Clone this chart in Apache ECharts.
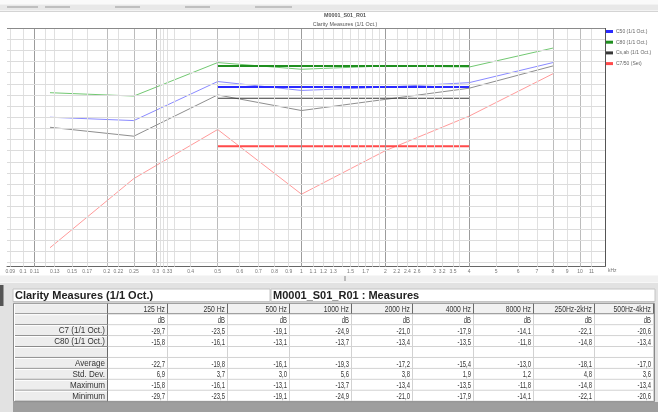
<!DOCTYPE html>
<html><head><meta charset="utf-8">
<script src="https://cdn.jsdelivr.net/npm/echarts@6/dist/echarts.min.js"></script>
<style>html,body{margin:0;padding:0;background:#fff}#c{width:658px;height:412px}</style>
</head><body><div id="c"></div><script>
// ---------- chart data ----------
const freqs = [125, 250, 500, 1000, 2000, 4000, 8000];
const c50 = [-18.0, -18.3, -14.8, -15.6, -15.3, -14.9, -13.1];
const c80 = [-15.8, -16.1, -13.1, -13.7, -13.4, -13.5, -11.8];
const csab = [-18.9, -19.7, -16.0, -17.4, -16.4, -15.4, -13.4];
const c7 = [-29.7, -23.5, -19.1, -24.9, -21.0, -17.9, -14.1];
const bandFreqs = [500, 4000];
const bandValues = [-15.3, -13.4, -16.3, -20.6]; // blue, green, black, red
const legendNames = ['C50 (1/1 Oct.)', 'C80 (1/1 Oct.)', 'Cs,ab (1/1 Oct.)', 'C7/50 (Set)'];
// axis ticks
const labelFreqs = [90,100,110,130,150,170,200,220,250,300,330,400,500,600,700,800,900,1000,1100,1200,1300,1500,1700,2000,2200,2400,2600,3000,3200,3500,4000,5000,6000,7000,8000,9000,10000,11000];
const gridFreqs = [90,100,110,120,130,150,170,200,220,250,300,310,320,330,350,400,500,600,700,800,900,1000,1100,1200,1300,1400,1500,1600,1700,1800,1900,2000,2200,2400,2600,2800,3000,3200,3500,3700,4000,5000,6000,7000,8000,9000,10000,11000];
const gridDarkFreqs = [110, 300, 1000, 2000, 4000];
const gridMidFreqs = [200, 250, 500, 8000, 10000];
const gridDb = [-31,-30,-29,-28,-27,-26,-25,-24,-23,-22,-21,-20,-19,-18,-17,-16,-15,-14,-13,-12,-11];
const xMin = 87.6, xMax = 12300, yMin = -31.4, yMax = -10;

// ---------- table data ----------
const tableCols = ['125 Hz','250 Hz','500 Hz','1000 Hz','2000 Hz','4000 Hz','8000 Hz','250Hz-2kHz','500Hz-4kHz'];
const tableUnit = 'dB';
const rowC7 = [-29.7,-23.5,-19.1,-24.9,-21.0,-17.9,-14.1,-22.1,-20.6];
const rowC80 = [-15.8,-16.1,-13.1,-13.7,-13.4,-13.5,-11.8,-14.8,-13.4];
const rowAvg = [-22.7,-19.8,-16.1,-19.3,-17.2,-15.4,-13.0,-18.1,-17.0];
const rowStd = [6.9,3.7,3.0,5.6,3.8,1.9,1.2,4.8,3.6];
const rowMax = [-15.8,-16.1,-13.1,-13.7,-13.4,-13.5,-11.8,-14.8,-13.4];
const rowMin = [-29.7,-23.5,-19.1,-24.9,-21.0,-17.9,-14.1,-22.1,-20.6];
const rowLabels = ['', '', 'C7 (1/1 Oct.)', 'C80 (1/1 Oct.)', '', 'Average', 'Std. Dev.', 'Maximum', 'Minimum'];
const panelTitle = 'Clarity Measures (1/1 Oct.)';
const panelSub = 'M0001_S01_R01 : Measures';
const chartTitle = 'M0001_S01_R01';
const chartSub = 'Clarity Measures (1/1 Oct.)';

// ---------- build ----------
const FONT = 'Liberation Sans, Arial, sans-serif';
const fmt = v => v.toFixed(1).replace('.', ',');
const toPts = vals => freqs.map((f, i) => [f, vals[i]]);
const thinColors = ['#8a8aff', '#72c872', '#8e8e8e', '#ff9a9a'];
const thickColors = ['#2a2aff', '#1f8f1f', '#383838', '#ff4a4a'];
const thickWidths = [2, 2, 1.2, 2];
const seriesVals = [c50, c80, csab, c7];

const gridLines = [];
gridFreqs.forEach(f => {
  let col = '#e0e0e0';
  if (gridDarkFreqs.includes(f)) col = '#9c9c9c';
  else if (gridMidFreqs.includes(f)) col = '#bcbcbc';
  gridLines.push({ xAxis: f, lineStyle: { color: col, width: 1, type: 'solid' } });
});
gridDb.forEach(v => gridLines.push({ yAxis: v, lineStyle: { color: '#dcdcdc', width: 1, type: 'solid' } }));
gridLines.push({ yAxis: yMax, lineStyle: { color: '#8a8a8a', width: 1, type: 'solid' } });
gridLines.push({ xAxis: xMax, lineStyle: { color: '#555', width: 1, type: 'solid' } });

const series = [{
  type: 'line', name: 'grid', data: [], z: 1, silent: true,
  markLine: { silent: true, symbol: ['none', 'none'], animation: false, label: { show: false }, data: gridLines }
}];
seriesVals.forEach((vals, k) => {
  series.push({ type: 'line', name: 'thin' + k, data: toPts(vals), symbol: 'none', z: 3,
    color: thinColors[k], lineStyle: { color: thinColors[k], width: 1 } });
});
seriesVals.forEach((vals, k) => {
  series.push({ type: 'line', name: legendNames[k], data: bandFreqs.map(f => [f, bandValues[k]]), symbol: 'none', z: 4,
    color: thickColors[k], lineStyle: { color: thickColors[k], width: thickWidths[k] } });
});

// table graphics
const colX = [15,108,168,228,290,352,413,474,534,595,654];
const rowTop = 303.3, rowH = 10.93;
const g = [];
function rect(x, y, w, h, fill, stroke) {
  g.push({ type: 'rect', shape: { x, y, width: w, height: h }, style: { fill: fill || 'none', stroke: stroke || null, lineWidth: 1 }, silent: true });
}
function line(x1, y1, x2, y2, c) {
  g.push({ type: 'line', shape: { x1, y1, x2, y2 }, style: { stroke: c, lineWidth: 1 }, silent: true });
}
function text(x, y, s, opt) {
  g.push({ type: 'text', x, y, scaleX: opt.sx || 1, silent: true,
    style: { text: s, fill: opt.color || '#333', font: (opt.bold ? 'bold ' : '') + (opt.size || 8) + 'px ' + FONT,
      textAlign: opt.align || 'right', textVerticalAlign: 'middle' } });
}
// top toolbar
rect(0, 0, 658, 4.5, '#fafafa');
rect(0, 4.5, 658, 6, '#e8e8e8');
[[7,38],[45,70],[115,140],[185,210],[255,292]].forEach(s => rect(s[0], 6.2, s[1]-s[0], 1.6, '#b4b4b4'));
line(0, 11.5, 658, 11.5, '#d4d4d4');
// chart titles
text(345, 15.5, chartTitle, { align: 'center', size: 6, bold: true, color: '#555', sx: 0.9 });
text(345, 24, chartSub, { align: 'center', size: 6, color: '#555', sx: 0.9 });
// splitter strip
rect(0, 275.5, 658, 7, '#f0f0f0');
rect(344, 276, 2, 5, '#bbbbbb');
// panel
rect(0, 283, 658, 129, '#e2e2e2');
rect(0, 285, 3.5, 21, '#555');
rect(13, 289, 257, 12.5, '#ffffff', '#c4c4c4');
rect(271, 289, 384, 12.5, '#ffffff', '#c4c4c4');
text(15, 295.7, panelTitle, { align: 'left', size: 11, bold: true, color: '#222', sx: 1.0 });
text(273, 295.7, panelSub, { align: 'left', size: 11, bold: true, color: '#222', sx: 1.0 });
rect(13, 402, 645, 10, '#9e9e9e');
// table body
const rows = [tableCols, tableCols.map(() => tableUnit), rowC7.map(fmt), rowC80.map(fmt), tableCols.map(() => ''),
  rowAvg.map(fmt), rowStd.map(fmt), rowMax.map(fmt), rowMin.map(fmt)];
rect(13, rowTop, 642, rowH * rows.length, '#ffffff');
rows.forEach((r, ri) => {
  const y = rowTop + ri * rowH;
  // label cell (button)
  rect(colX[0], y + 0.5, colX[1] - colX[0], rowH - 1, '#ededed');
  line(colX[0], y + 0.5, colX[1] - 1, y + 0.5, '#ffffff');
  line(colX[1] - 0.5, y, colX[1] - 0.5, y + rowH, '#6a6a6a');
  line(colX[0], y + rowH - 0.5, colX[1], y + rowH - 0.5, '#8a8a8a');
  if (rowLabels[ri]) text(colX[1] - 3, y + rowH / 2 + 0.5, rowLabels[ri], { size: 8.5, color: '#333', sx: 0.95 });
  r.forEach((s, ci) => {
    const x0 = colX[ci + 1], x1 = colX[ci + 2];
    if (ri === 0) {
      rect(x0, y + 0.5, x1 - x0, rowH - 1, '#f1f1f1');
      line(x1 - 0.5, y, x1 - 0.5, y + rowH, '#6a6a6a');
      line(x0, y + rowH - 0.5, x1, y + rowH - 0.5, '#8a8a8a');
    } else {
      line(x1 - 0.5, y, x1 - 0.5, y + rowH, '#d2d2d2');
      line(x0, y + rowH - 0.5, x1, y + rowH - 0.5, '#d2d2d2');
    }
    const isHead = ri === 0;
    if (s) text(x1 - 3, y + rowH / 2 + 0.5, s, { size: isHead ? 8.5 : 9.5, color: '#333', sx: isHead ? 0.8 : 0.62 });
  });
});
rect(13.5, rowTop, 641, rowH * rows.length, null, '#8a8a8a');

const option = {
  animation: false,
  backgroundColor: '#ffffff',
  grid: { left: 7, right: 53, top: 28, height: 238.7, containLabel: false },
  legend: {
    data: legendNames, orient: 'vertical', left: 606, top: 28.5, icon: 'rect',
    itemWidth: 7, itemHeight: 3, itemGap: 4.7, padding: 0,
    textStyle: { fontSize: 5, color: '#666', fontFamily: FONT, padding: [0, 0, 0, -2], lineHeight: 6 }
  },
  xAxis: {
    type: 'log', logBase: 10, min: xMin, max: xMax,
    name: 'kHz', nameLocation: 'end', nameGap: 3,
    nameTextStyle: { fontSize: 5, color: '#777', fontFamily: FONT, verticalAlign: 'top', padding: [1, 0, 0, 0] },
    axisLine: { show: true, lineStyle: { color: '#666', width: 1 } },
    axisTick: { show: true, inside: true, length: 2, customValues: labelFreqs, lineStyle: { color: '#888' } },
    splitLine: { show: false }, minorSplitLine: { show: false },
    axisLabel: { show: true, customValues: labelFreqs, interval: 0, hideOverlap: false, margin: 2,
      fontSize: 5, color: '#777', fontFamily: FONT, formatter: v => String(+(v / 1000).toFixed(3)) }
  },
  yAxis: {
    type: 'value', min: yMin, max: yMax,
    axisLine: { show: false }, axisTick: { show: false }, axisLabel: { show: false }, splitLine: { show: false }
  },
  graphic: { elements: g },
  series
};
const chart = echarts.init(document.getElementById('c'), null, { renderer: 'canvas' });
chart.setOption(option);
</script></body></html>
